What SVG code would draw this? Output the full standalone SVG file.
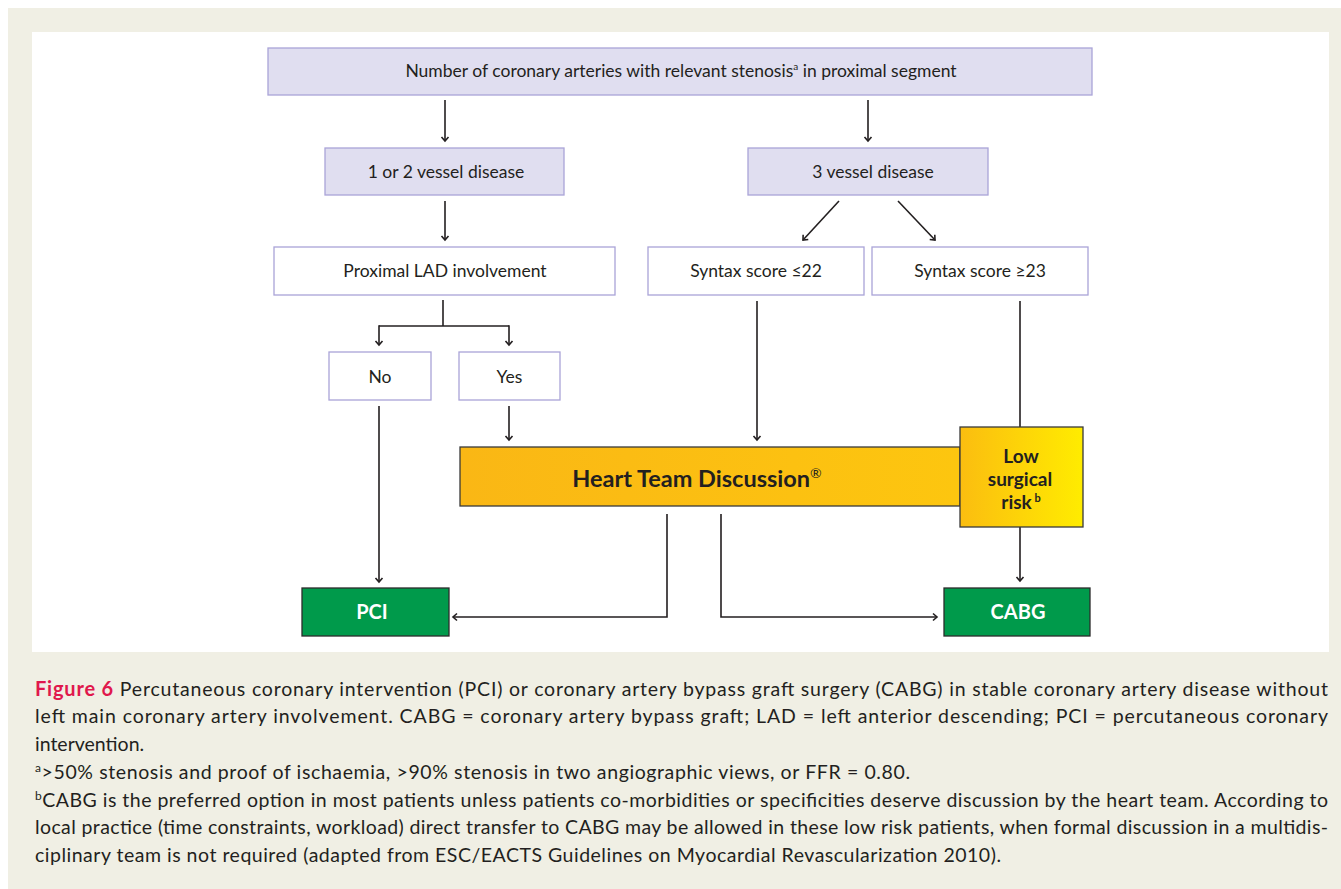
<svg xmlns="http://www.w3.org/2000/svg" width="1341" height="889" viewBox="0 0 1341 889">
<defs>
<style>
.t{font-family:Lato,"Open Sans","Liberation Sans",sans-serif;fill:#231f20}
.n{font-size:17.5px;text-anchor:middle}
.lav{fill:#e0def0;stroke:#aaa4d8;stroke-width:1.3}
.wb{fill:#ffffff;stroke:#aaa4d8;stroke-width:1.3}
.gr{fill:#009a4b;stroke:#2b2b2b;stroke-width:1.3}
.wt{font-family:Lato,"Open Sans","Liberation Sans",sans-serif;fill:#ffffff;font-weight:bold;font-size:20px;text-anchor:middle}
.c{fill:none;stroke:#231f20;stroke-width:1.6}
.cap{font-family:Lato,"Open Sans","Liberation Sans",sans-serif;fill:#231f20;font-size:19.5px}
.lr{font-size:19px;font-weight:bold;text-anchor:middle}
</style>
<marker id="ah" viewBox="-6 -6 8 12" markerWidth="8" markerHeight="12" refX="0" refY="0" orient="auto" markerUnits="userSpaceOnUse">
<path d="M-4,-3.5 L0,0 L-4,3.5" fill="none" stroke="#231f20" stroke-width="1.6"/>
</marker>
<linearGradient id="gHT" x1="0" y1="0" x2="1" y2="0">
<stop offset="0" stop-color="#fab715"/>
<stop offset="1" stop-color="#fdc60f"/>
</linearGradient>
<linearGradient id="gLR" x1="0" y1="0" x2="1" y2="0">
<stop offset="0" stop-color="#fbbd10"/>
<stop offset="1" stop-color="#ffec00"/>
</linearGradient>
</defs>
<rect x="0" y="0" width="1341" height="889" fill="#ffffff"/>
<rect x="8" y="8" width="1333" height="881" fill="#f0efe4"/>
<rect x="32" y="32" width="1297" height="620" fill="#ffffff"/>

<g id="connectors">
<path class="c" d="M445,100 V141" marker-end="url(#ah)"/>
<path class="c" d="M868,100 V141" marker-end="url(#ah)"/>
<path class="c" d="M445,201 V240" marker-end="url(#ah)"/>
<path class="c" d="M443,300 V326"/>
<path class="c" d="M379,326 H509"/>
<path class="c" d="M379,325.2 V345" marker-end="url(#ah)"/>
<path class="c" d="M509,325.2 V345" marker-end="url(#ah)"/>
<path class="c" d="M839,201 L803,240" marker-end="url(#ah)"/>
<path class="c" d="M898,201 L935,240" marker-end="url(#ah)"/>
<path class="c" d="M379,406 V582" marker-end="url(#ah)"/>
<path class="c" d="M509,406 V440" marker-end="url(#ah)"/>
<path class="c" d="M757,301 V440" marker-end="url(#ah)"/>
<path class="c" d="M1020,301 V427"/>
<path class="c" d="M1020,527 V581" marker-end="url(#ah)"/>
<path class="c" d="M667,514 V617 H453" marker-end="url(#ah)"/>
<path class="c" d="M721,514 V617 H937" marker-end="url(#ah)"/>
</g>

<g id="top">
<rect class="lav" x="268" y="48" width="824" height="47"/>
<text class="t n" x="681" y="77">Number of coronary arteries with relevant stenosis<tspan font-size="10" dy="-7">a</tspan><tspan dy="7"> in proximal segment</tspan></text>
</g>
<g id="v12">
<rect class="lav" x="325" y="148" width="239" height="47"/>
<text class="t n" x="446" y="178">1 or 2 vessel disease</text>
</g>
<g id="v3">
<rect class="lav" x="748" y="148" width="240" height="47"/>
<text class="t n" x="873" y="178">3 vessel disease</text>
</g>
<g id="lad">
<rect class="wb" x="274" y="247" width="341" height="48"/>
<text class="t n" x="445" y="277">Proximal LAD involvement</text>
</g>
<g id="s22">
<rect class="wb" x="648" y="247" width="216" height="48"/>
<text class="t n" x="756" y="277">Syntax score ≤22</text>
</g>
<g id="s23">
<rect class="wb" x="872" y="247" width="216" height="48"/>
<text class="t n" x="980" y="277">Syntax score ≥23</text>
</g>
<g id="no">
<rect class="wb" x="329" y="352" width="102" height="48"/>
<text class="t n" x="380" y="383">No</text>
</g>
<g id="yes">
<rect class="wb" x="459" y="352" width="101" height="48"/>
<text class="t n" x="509.5" y="383">Yes</text>
</g>
<g id="heartteam">
<rect x="460" y="447" width="500" height="59" fill="url(#gHT)" stroke="#3a3a3a" stroke-width="1.3"/>
<text class="t" x="697" y="487" font-size="23.5" font-weight="bold" text-anchor="middle">Heart Team Discussion<tspan font-size="14" font-weight="normal" dy="-9">®</tspan></text>
</g>
<g id="lowrisk">
<rect x="960" y="427" width="123" height="100" fill="url(#gLR)" stroke="#3a3a3a" stroke-width="1.3"/>
<text class="t lr" x="1021" y="463">Low</text>
<text class="t lr" x="1020" y="486">surgical</text>
<text class="t lr" x="1021" y="509">risk<tspan font-size="11" dy="-7"> b</tspan></text>
</g>
<g id="pci">
<rect class="gr" x="302" y="588" width="147" height="48"/>
<text class="wt" x="372" y="619">PCI</text>
</g>
<g id="cabg">
<rect class="gr" x="944" y="588" width="146" height="48"/>
<text class="wt" x="1018" y="619">CABG</text>
</g>

<g id="caption">
<text class="cap" x="35" y="696" textLength="1293" lengthAdjust="spacing"><tspan font-weight="bold" fill="#e0184c" font-size="20">Figure 6</tspan> Percutaneous coronary intervention (PCI) or coronary artery bypass graft surgery (CABG) in stable coronary artery disease without</text>
<text class="cap" x="35" y="723" textLength="1293" lengthAdjust="spacing">left main coronary artery involvement. CABG = coronary artery bypass graft; LAD = left anterior descending; PCI = percutaneous coronary</text>
<text class="cap" x="35" y="751">intervention.</text>
<text class="cap" x="35" y="779" textLength="875" lengthAdjust="spacing"><tspan font-size="12" dy="-7">a</tspan><tspan dy="7">&gt;50% stenosis and proof of ischaemia, &gt;90% stenosis in two angiographic views, or FFR = 0.80.</tspan></text>
<text class="cap" x="35" y="807" textLength="1293" lengthAdjust="spacing"><tspan font-size="12" dy="-7">b</tspan><tspan dy="7">CABG is the preferred option in most patients unless patients co-morbidities or specificities deserve discussion by the heart team. According to</tspan></text>
<text class="cap" x="35" y="834" textLength="1293" lengthAdjust="spacing">local practice (time constraints, workload) direct transfer to CABG may be allowed in these low risk patients, when formal discussion in a multidis-</text>
<text class="cap" x="35" y="862" textLength="966" lengthAdjust="spacing">ciplinary team is not required (adapted from ESC/EACTS Guidelines on Myocardial Revascularization 2010).</text>
</g>
</svg>
